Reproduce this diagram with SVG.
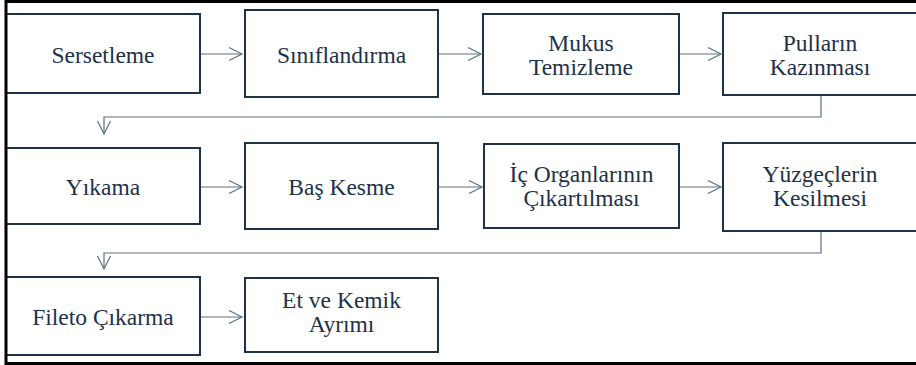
<svg xmlns="http://www.w3.org/2000/svg" width="916" height="365" viewBox="0 0 916 365">
<defs>
<style>
.box{fill:#ffffff;stroke:#1d3149;stroke-width:2}
.c{fill:none;stroke:#5c6f84;stroke-width:1.2}
</style>
<marker id="ah" viewBox="0 0 16 16" refX="14" refY="8" markerWidth="16" markerHeight="16" markerUnits="userSpaceOnUse" orient="auto">
<path d="M1,1.5 L14,8 L1,14.5" fill="none" stroke="#5c6f84" stroke-width="1.2"/>
</marker>
</defs>
<rect width="916" height="365" fill="#ffffff"/>
<g font-family="Liberation Serif, Times New Roman, serif" font-size="23.5" fill="#1d3149" text-anchor="middle">
<g id="n1"><rect class="box" x="6" y="14" width="194" height="79"/><text x="103" y="63">Sersetleme</text></g>
<g id="n2"><rect class="box" x="245" y="10" width="193" height="87"/><text x="341.5" y="63">Sınıflandırma</text></g>
<g id="n3"><rect class="box" x="483" y="14" width="196" height="80"/><text x="581" y="51">Mukus</text><text x="581" y="75">Temizleme</text></g>
<g id="n4"><rect class="box" x="723" y="13" width="200" height="82"/><text x="820" y="51">Pulların</text><text x="820" y="75">Kazınması</text></g>
<g id="n5"><rect class="box" x="6" y="148" width="194" height="76"/><text x="103" y="195">Yıkama</text></g>
<g id="n6"><rect class="box" x="245" y="143" width="193" height="86"/><text x="341.5" y="195">Baş Kesme</text></g>
<g id="n7"><rect class="box" x="484" y="144" width="195" height="84"/><text x="581.5" y="182">İç Organlarının</text><text x="581.5" y="206">Çıkartılması</text></g>
<g id="n8"><rect class="box" x="723" y="143" width="200" height="88"/><text x="820" y="182">Yüzgeçlerin</text><text x="820" y="206">Kesilmesi</text></g>
<g id="n9"><rect class="box" x="6" y="277" width="194" height="78"/><text x="103" y="325">Fileto Çıkarma</text></g>
<g id="n10"><rect class="box" x="245" y="278" width="193" height="74"/><text x="341.5" y="308">Et ve Kemik</text><text x="341.5" y="332">Ayrımı</text></g>
</g>
<g id="connectors">
<path class="c" marker-end="url(#ah)" d="M201,54 H242"/>
<path class="c" marker-end="url(#ah)" d="M439,54 H481"/>
<path class="c" marker-end="url(#ah)" d="M680,54 H721"/>
<path class="c" marker-end="url(#ah)" d="M821,96 V117 H104 V134"/>
<path class="c" marker-end="url(#ah)" d="M201,187 H242"/>
<path class="c" marker-end="url(#ah)" d="M439,187 H482"/>
<path class="c" marker-end="url(#ah)" d="M680,187 H721"/>
<path class="c" marker-end="url(#ah)" d="M821,232 V253 H104 V269"/>
<path class="c" marker-end="url(#ah)" d="M201,317 H242"/>
</g>
<rect x="6" y="1.5" width="930" height="362" fill="none" stroke="#000000" stroke-width="3"/>
</svg>
